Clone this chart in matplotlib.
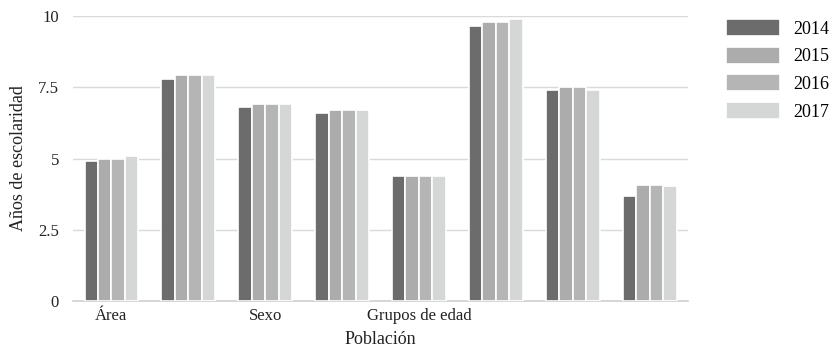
import matplotlib.pyplot as plt
import numpy as np

plt.rcParams['font.family'] = ['Liberation Serif', 'DejaVu Serif']

# years of schooling by population group
years = ['2014', '2015', '2016', '2017']
categories = ['Área', '', 'Sexo', '', 'Grupos de edad', '', '', '']
v2014 = [4.9, 7.8, 6.8, 6.6, 4.4, 9.65, 7.4, 3.7]
v2015 = [5.0, 7.95, 6.9, 6.7, 4.4, 9.8, 7.5, 4.07]
v2016 = [5.0, 7.95, 6.9, 6.7, 4.4, 9.8, 7.5, 4.07]
v2017 = [5.1, 7.95, 6.9, 6.7, 4.4, 9.9, 7.4, 4.04]
series = [v2014, v2015, v2016, v2017]
colors = ['#6b6c6b', '#abacab', '#b4b5b4', '#d5d6d6']

fig = plt.figure(figsize=(8.34, 3.47), dpi=100)
ax = fig.add_axes([0.0875, 0.1326, 0.7375, 0.821])

x = np.arange(len(categories))
w = 0.7 / 4
for i, (vals, c, yr) in enumerate(zip(series, colors, years)):
    ax.bar(x + (i - 1.5) * w, vals, width=w, color=c, edgecolor='white',
           linewidth=1.2, label=yr, zorder=3)

ax.set_xlim(-0.5, len(categories) - 0.5)
ax.set_ylim(0, 10)
ax.set_yticks([0, 2.5, 5, 7.5, 10])
ax.set_yticklabels(['0', '2.5', '5', '7.5', '10'])
ax.set_xticks(x)
ax.set_xticklabels(categories)
ax.tick_params(length=0, labelsize=12, colors='#222222')
ax.tick_params(axis='y', pad=10)
ax.tick_params(axis='x', pad=5)

ax.grid(axis='y', color='#d9d9d9', linewidth=1, zorder=0)
for s in ['top', 'right', 'left']:
    ax.spines[s].set_visible(False)
ax.spines['bottom'].set_color('#d0d0d0')
ax.spines['bottom'].set_linewidth(1.2)

ax.set_ylabel('Años de escolaridad', fontsize=13, color='#222222', labelpad=8)
ax.set_xlabel('Población', fontsize=13, color='#222222', labelpad=5)

ax.legend(loc='upper left', bbox_to_anchor=(0.862, 0.965),
          bbox_transform=fig.transFigure, frameon=False, borderaxespad=0,
          fontsize=13, handlelength=3.0, handleheight=1.05, handletextpad=0.72,
          labelspacing=0.5)

fig.savefig('out.png', dpi=100)
